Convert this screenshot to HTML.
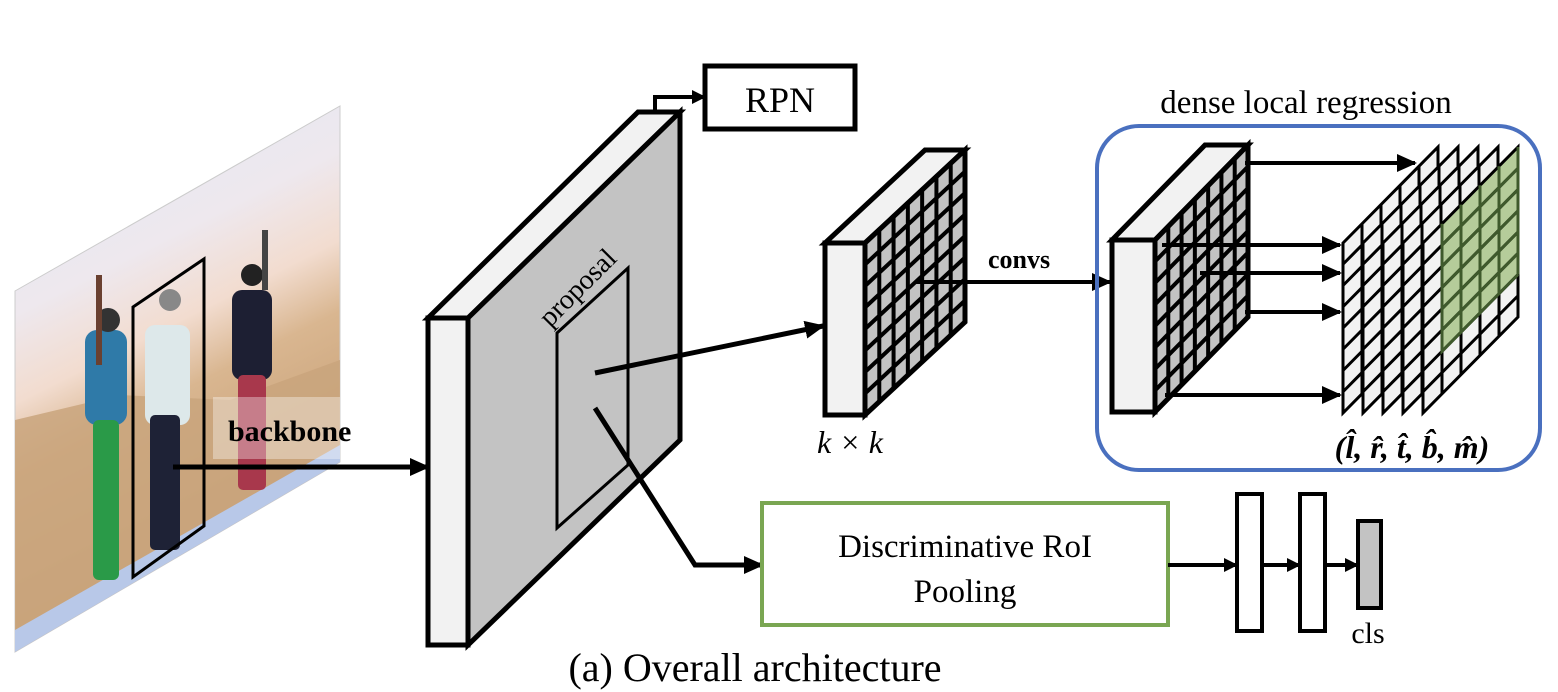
<!DOCTYPE html>
<html><head><meta charset="utf-8"><style>
html,body{margin:0;padding:0;background:#fff;}
svg{display:block;}
text{font-family:"Liberation Serif",serif;}
</style></head><body>
<svg width="1558" height="692" viewBox="0 0 1558 692" xmlns="http://www.w3.org/2000/svg">
<defs>
<marker id="ah" markerWidth="14" markerHeight="14" refX="13" refY="7" orient="auto" markerUnits="userSpaceOnUse" viewBox="0 0 14 14">
<path d="M0,0 L14,7 L0,14 z" fill="#000"/></marker>
<marker id="ahb" markerWidth="20" markerHeight="18" refX="18" refY="9" orient="auto" markerUnits="userSpaceOnUse" viewBox="0 0 20 18">
<path d="M0,0 L20,9 L0,18 z" fill="#000"/></marker>
<linearGradient id="sky" x1="0" y1="0" x2="0.3" y2="1">
<stop offset="0" stop-color="#dfe8f4"/>
<stop offset="0.35" stop-color="#eee8ee"/>
<stop offset="0.5" stop-color="#f2dccf"/>
<stop offset="0.62" stop-color="#d9b690"/>
<stop offset="0.9" stop-color="#c49c72"/>
<stop offset="1" stop-color="#b9c6e6"/>
</linearGradient>
<clipPath id="pc"><polygon points="15,291 340,106 340,462 15,652"/></clipPath>
</defs>

<!-- photo -->
<polygon points="15,291 340,106 340,462 15,652" fill="url(#sky)" stroke="#ccc" stroke-width="1"/>
<g clip-path="url(#pc)">
<polygon points="15,420 120,395 230,400 340,360 340,470 15,660" fill="#c9a57c" opacity="0.85"/>
<polygon points="15,630 340,445 340,470 15,660" fill="#b8c8e8"/>
<rect x="85" y="330" width="42" height="95" rx="12" fill="#2f7aa8"/>
<rect x="93" y="420" width="26" height="160" rx="6" fill="#2a9a48"/>
<circle cx="108" cy="320" r="12" fill="#333"/>
<rect x="96" y="275" width="6" height="90" fill="#6a4030"/>
<rect x="145" y="325" width="45" height="100" rx="10" fill="#dde8ea"/>
<rect x="150" y="415" width="30" height="135" rx="5" fill="#1e2236"/>
<circle cx="170" cy="300" r="11" fill="#888"/>
<rect x="232" y="290" width="40" height="90" rx="10" fill="#1d1f33"/>
<rect x="238" y="375" width="28" height="115" rx="5" fill="#a8384c"/>
<circle cx="252" cy="275" r="11" fill="#222"/>
<rect x="262" y="230" width="6" height="60" fill="#444"/>
<rect x="213" y="397" width="127" height="62" fill="#fff" opacity="0.35"/>
</g>
<polygon points="133,307 204,259 204,526 133,577" fill="none" stroke="#000" stroke-width="3"/>
<text x="228" y="441" font-size="30" font-weight="bold">backbone</text>
<line x1="173" y1="467" x2="428" y2="467" stroke="#000" stroke-width="5" marker-end="url(#ahb)"/>

<!-- big slab -->
<polygon points="428,318 468,318 680,112 638,112" fill="#f2f2f2" stroke="#000" stroke-width="5"/>
<polygon points="468,318 680,112 680,440 468,645" fill="#c3c3c3" stroke="#000" stroke-width="5"/>
<rect x="428" y="318" width="40" height="327" fill="#f2f2f2" stroke="#000" stroke-width="5"/>
<polygon points="557,333 628,268 628,465 557,528" fill="none" stroke="#000" stroke-width="3"/>
<text x="0" y="0" font-size="28" transform="translate(550,328) rotate(-45)">proposal</text>
<!-- RPN -->
<polyline points="655,112 655,97 705,97" fill="none" stroke="#000" stroke-width="4" marker-end="url(#ah)"/>
<rect x="705" y="66" width="150" height="63" fill="#fff" stroke="#000" stroke-width="5"/>
<text x="780" y="112" font-size="36" text-anchor="middle">RPN</text>

<line x1="595" y1="373" x2="823" y2="326" stroke="#000" stroke-width="5" marker-end="url(#ahb)"/>
<polyline points="595,408 695,565 745,565" fill="none" stroke="#000" stroke-width="5"/>
<line x1="740" y1="565" x2="762" y2="565" stroke="#000" stroke-width="5" marker-end="url(#ahb)"/>

<!-- mid cube -->
<polygon points="825,243 865,243 965,150 925,150" fill="#f2f2f2" stroke="#000" stroke-width="5"/>
<g transform="matrix(14.2857,-13.2857,0,21.5,865,243)">
<polygon points="0,0 7,0 7,8 0,8" fill="#c3c3c3"/>
<g stroke="#000" stroke-width="4" fill="none">
<path vector-effect="non-scaling-stroke" d="M1,0V8M2,0V8M3,0V8M4,0V8M5,0V8M6,0V8M0,1H7M0,2H7M0,3H7M0,4H7M0,5H7M0,6H7M0,7H7"/>
<polygon vector-effect="non-scaling-stroke" stroke-width="5" points="0,0 7,0 7,8 0,8"/>
</g></g>
<rect x="825" y="243" width="40" height="172" fill="#f2f2f2" stroke="#000" stroke-width="5"/>
<text x="850" y="453" font-size="32" font-style="italic" text-anchor="middle">k × k</text>

<text x="988" y="268" font-size="26" font-weight="bold">convs</text>
<line x1="915" y1="282" x2="1110" y2="282" stroke="#000" stroke-width="4" marker-end="url(#ahb)"/>

<!-- dense local regression -->
<text x="1306" y="113" font-size="33" text-anchor="middle">dense local regression</text>
<rect x="1097" y="126" width="443" height="344" rx="42" fill="none" stroke="#4a70bf" stroke-width="4"/>

<polygon points="1112,240 1155,240 1248,145 1205,145" fill="#f2f2f2" stroke="#000" stroke-width="5"/>
<g transform="matrix(13.2857,-13.5714,0,21.5,1155,240)">
<polygon points="0,0 7,0 7,8 0,8" fill="#c3c3c3"/>
<g stroke="#000" stroke-width="4" fill="none">
<path vector-effect="non-scaling-stroke" d="M1,0V8M2,0V8M3,0V8M4,0V8M5,0V8M6,0V8M0,1H7M0,2H7M0,3H7M0,4H7M0,5H7M0,6H7M0,7H7"/>
<polygon vector-effect="non-scaling-stroke" stroke-width="5" points="0,0 7,0 7,8 0,8"/>
</g></g>
<rect x="1112" y="240" width="43" height="172" fill="#f2f2f2" stroke="#000" stroke-width="5"/>

<g stroke="#000" stroke-width="4">
<line x1="1245" y1="163" x2="1415" y2="163" marker-end="url(#ahb)"/>
<line x1="1162" y1="245" x2="1340" y2="245" marker-end="url(#ahb)"/>
<line x1="1200" y1="273" x2="1340" y2="273" marker-end="url(#ahb)"/>
<line x1="1245" y1="312" x2="1340" y2="312" marker-end="url(#ahb)"/>
<line x1="1165" y1="395" x2="1340" y2="395" marker-end="url(#ahb)"/>
</g>

<!-- output grids -->
<g transform="matrix(19,-19.2,0,21.25,1343,243)">
<polygon points="0,0 5,0 5,8 0,8" fill="#f2f2f2"/>
<g stroke="#000" fill="none" stroke-width="3">
<path vector-effect="non-scaling-stroke" d="M1,0V8M2,0V8M3,0V8M4,0V8M0,1H5M0,2H5M0,3H5M0,4H5M0,5H5M0,6H5M0,7H5"/>
<polygon vector-effect="non-scaling-stroke" points="0,0 5,0 5,8 0,8"/>
</g></g>
<g transform="matrix(19,-19.2,0,21.25,1363,243)">
<polygon points="0,0 5,0 5,8 0,8" fill="#f2f2f2"/>
<g stroke="#000" fill="none" stroke-width="3">
<path vector-effect="non-scaling-stroke" d="M1,0V8M2,0V8M3,0V8M4,0V8M0,1H5M0,2H5M0,3H5M0,4H5M0,5H5M0,6H5M0,7H5"/>
<polygon vector-effect="non-scaling-stroke" points="0,0 5,0 5,8 0,8"/>
</g></g>
<g transform="matrix(19,-19.2,0,21.25,1383,243)">
<polygon points="0,0 5,0 5,8 0,8" fill="#f2f2f2"/>
<g stroke="#000" fill="none" stroke-width="3">
<path vector-effect="non-scaling-stroke" d="M1,0V8M2,0V8M3,0V8M4,0V8M0,1H5M0,2H5M0,3H5M0,4H5M0,5H5M0,6H5M0,7H5"/>
<polygon vector-effect="non-scaling-stroke" points="0,0 5,0 5,8 0,8"/>
</g></g>
<g transform="matrix(19,-19.2,0,21.25,1403,243)">
<polygon points="0,0 5,0 5,8 0,8" fill="#f2f2f2"/>
<g stroke="#000" fill="none" stroke-width="3">
<path vector-effect="non-scaling-stroke" d="M1,0V8M2,0V8M3,0V8M4,0V8M0,1H5M0,2H5M0,3H5M0,4H5M0,5H5M0,6H5M0,7H5"/>
<polygon vector-effect="non-scaling-stroke" points="0,0 5,0 5,8 0,8"/>
</g></g>
<g transform="matrix(19,-19.2,0,21.25,1423,243)">
<polygon points="0,0 5,0 5,8 0,8" fill="#f2f2f2"/>
<polygon points="1,0 5,0 5,6 1,6" fill="#b5cc9a"/>
<g stroke="#000" fill="none" stroke-width="3">
<path vector-effect="non-scaling-stroke" d="M1,0V8M2,0V8M3,0V8M4,0V8M0,1H5M0,2H5M0,3H5M0,4H5M0,5H5M0,6H5M0,7H5"/>
<polygon vector-effect="non-scaling-stroke" points="0,0 5,0 5,8 0,8"/>
</g>
<path vector-effect="non-scaling-stroke" d="M1,0V6H5M2,0V6M3,0V6M4,0V6M1,1H5M1,2H5M1,3H5M1,4H5M1,5H5M5,0V6" stroke="#3f5a2c" stroke-width="3" fill="none"/>
</g>
<text x="1412" y="458" font-size="32" font-weight="bold" font-style="italic" text-anchor="middle">(l̂, r̂, t̂, b̂, m̂)</text>

<!-- discriminative -->
<rect x="762" y="503" width="406" height="122" fill="#fff" stroke="#7aa652" stroke-width="4"/>
<text x="965" y="557" font-size="33" text-anchor="middle">Discriminative RoI</text>
<text x="965" y="602" font-size="33" text-anchor="middle">Pooling</text>

<g stroke="#000" stroke-width="4">
<line x1="1168" y1="565" x2="1237" y2="565" marker-end="url(#ah)"/>
<line x1="1262" y1="565" x2="1300" y2="565" marker-end="url(#ah)"/>
<line x1="1325" y1="565" x2="1358" y2="565" marker-end="url(#ah)"/>
</g>
<rect x="1237" y="494" width="25" height="137" fill="#fff" stroke="#000" stroke-width="4"/>
<rect x="1300" y="494" width="25" height="137" fill="#fff" stroke="#000" stroke-width="4"/>
<rect x="1358" y="521" width="23" height="87" fill="#c3c3c3" stroke="#000" stroke-width="4"/>
<text x="1368" y="643" font-size="30" text-anchor="middle">cls</text>

<text x="755" y="681" font-size="40" text-anchor="middle">(a) Overall architecture</text>
</svg>
</body></html>
